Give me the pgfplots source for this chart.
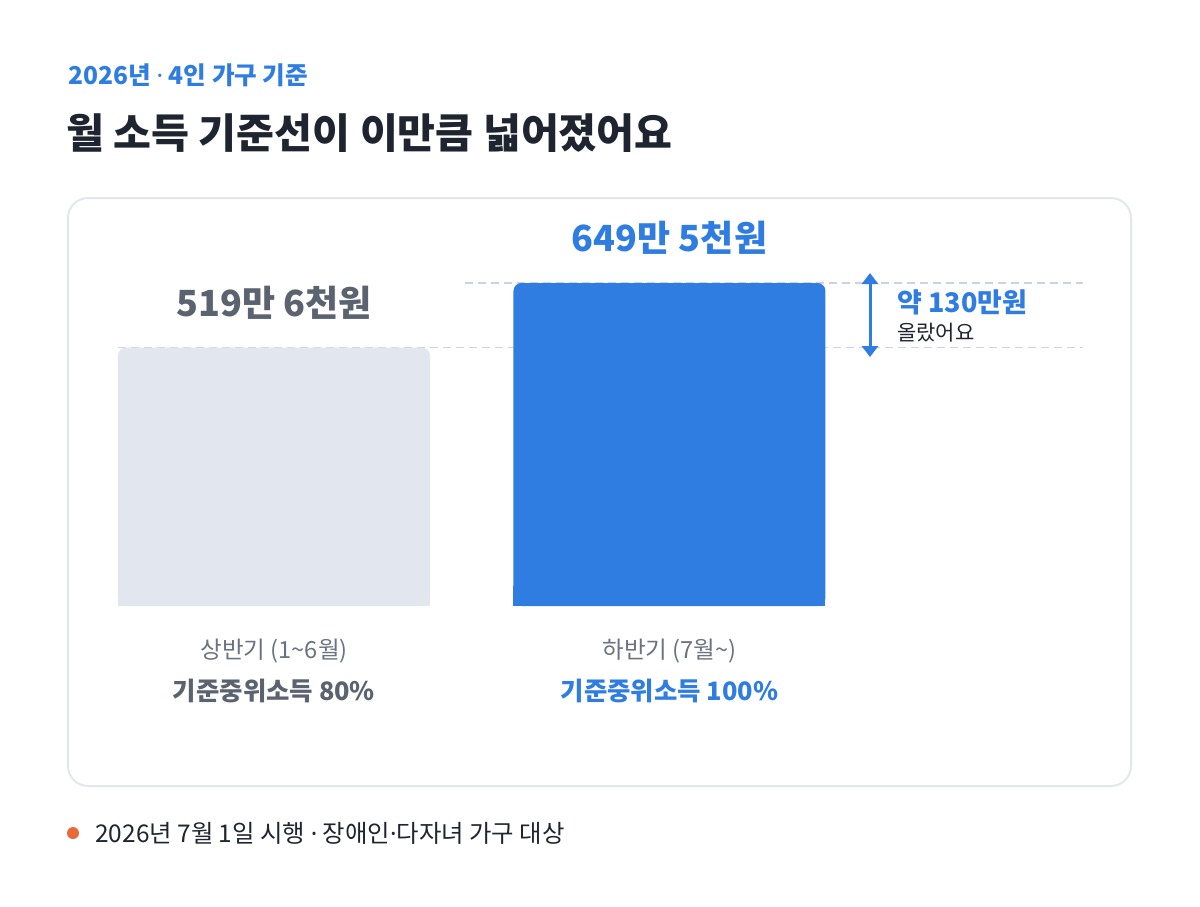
\documentclass[border=0pt]{standalone}
\usepackage{fontspec}
\usepackage{pgfplots}
\pgfplotsset{compat=1.18}
\usetikzlibrary{arrows.meta}
\setmainfont{Noto Sans CJK KR}
\newfontfamily\lat{Noto Sans}
\newcommand{\md}{{\lat ·}}
\definecolor{cblue}{HTML}{2F7DE1}
\definecolor{ctitle}{HTML}{1E2430}
\definecolor{cval}{HTML}{5B6270}
\definecolor{ccat}{HTML}{6B7280}
\definecolor{cbar}{HTML}{E2E6EE}
\definecolor{cdash}{HTML}{CDD3DC}
\definecolor{ccard}{HTML}{E4E7EC}
\definecolor{corange}{HTML}{E8693A}
\newcommand{\fs}[1]{\fontsize{#1}{#1}\selectfont}
\begin{document}
\begin{tikzpicture}
\path[use as bounding box, fill=white] (0pt,0pt) rectangle (600pt,-453pt);
\draw[ccard, line width=1pt, rounded corners=10pt] (34pt,-99pt) rectangle (565.5pt,-393pt);
\node[anchor=west, inner sep=0pt, font=\bfseries\fs{12.3}, text=cblue] at (34pt,-37.5pt) {2026년 \md{} 4인 가구 기준};
\node[anchor=west, inner sep=0pt, font=\bfseries\fs{20.6}, text=ctitle] at (33pt,-66.5pt) {월 소득 기준선이 이만큼 넓어졌어요};
\fill[corange] (36.5pt,-416.5pt) circle (3pt);
\node[anchor=west, inner sep=0pt, font=\fs{12.2}, text=ctitle] at (47.5pt,-416.5pt) {2026년 7월 1일 시행 \md{} 장애인\md{}다자녀 가구 대상};
\begin{axis}[
  at={(0pt,-303pt)}, anchor=south west,
  scale only axis, width=600pt, height=303pt,
  xmin=-0.6928, xmax=2.3414, ymin=0, ymax=1218.6,
  axis line style={draw=none}, ytick=\empty,
  xtick={0,1}, major tick length=0pt,
  xticklabels={{{\color{ccat}\fs{11.8}상반기 (1\textasciitilde 6월)}\\[7pt]{\color{cval}\bfseries\fs{12.7}기준중위소득 80\%}},
               {{\color{ccat}\fs{11.8}하반기 (7월\textasciitilde)}\\[7pt]{\color{cblue}\bfseries\fs{12.7}기준중위소득 100\%}}},
  xticklabel style={align=center, anchor=north, inner sep=0pt, yshift=-16.5pt},
  clip=false, ybar, bar shift=0pt, bar width=156pt,
]
\draw[cdash, line width=0.8pt, dash pattern=on 4pt off 2.5pt] (axis cs:-0.3944,519.6) -- (axis cs:2.0455,519.6);
\draw[cdash, line width=0.8pt, dash pattern=on 4pt off 2.5pt] (axis cs:0.4829,649.5) -- (axis cs:2.0455,649.5);
\addplot[fill=cbar, draw=none, y filter/.expression={min(y,40)}] coordinates {(0,519.6)};
\addplot[fill=cbar, draw=none, rounded corners=4pt,
  nodes near coords={519만 6천원},
  every node near coord/.append style={anchor=center, yshift=22.5pt, font=\bfseries\fs{18}, text=cval}]
  coordinates {(0,519.6)};
\addplot[fill=cblue, draw=none, y filter/.expression={min(y,40)}] coordinates {(1,649.5)};
\addplot[fill=cblue, draw=none, rounded corners=4pt,
  nodes near coords={649만 5천원},
  every node near coord/.append style={anchor=center, yshift=22.5pt, font=\bfseries\fs{18}, text=cblue}]
  coordinates {(1,649.5)};
\draw[cblue, line width=1.5pt, {Triangle[width=8pt,length=5.5pt]}-{Triangle[width=8pt,length=5.5pt]}] (axis cs:1.507,669.6) -- (axis cs:1.507,500.7);
\node[anchor=west, inner sep=0pt, font=\bfseries\fs{13.5}, text=cblue] at (axis cs:1.575,611.3) {약 130만원};
\node[anchor=west, inner sep=0pt, font=\fs{10.5}, text=ctitle] at (axis cs:1.575,549) {올랐어요};
\end{axis}
\end{tikzpicture}
\end{document}
